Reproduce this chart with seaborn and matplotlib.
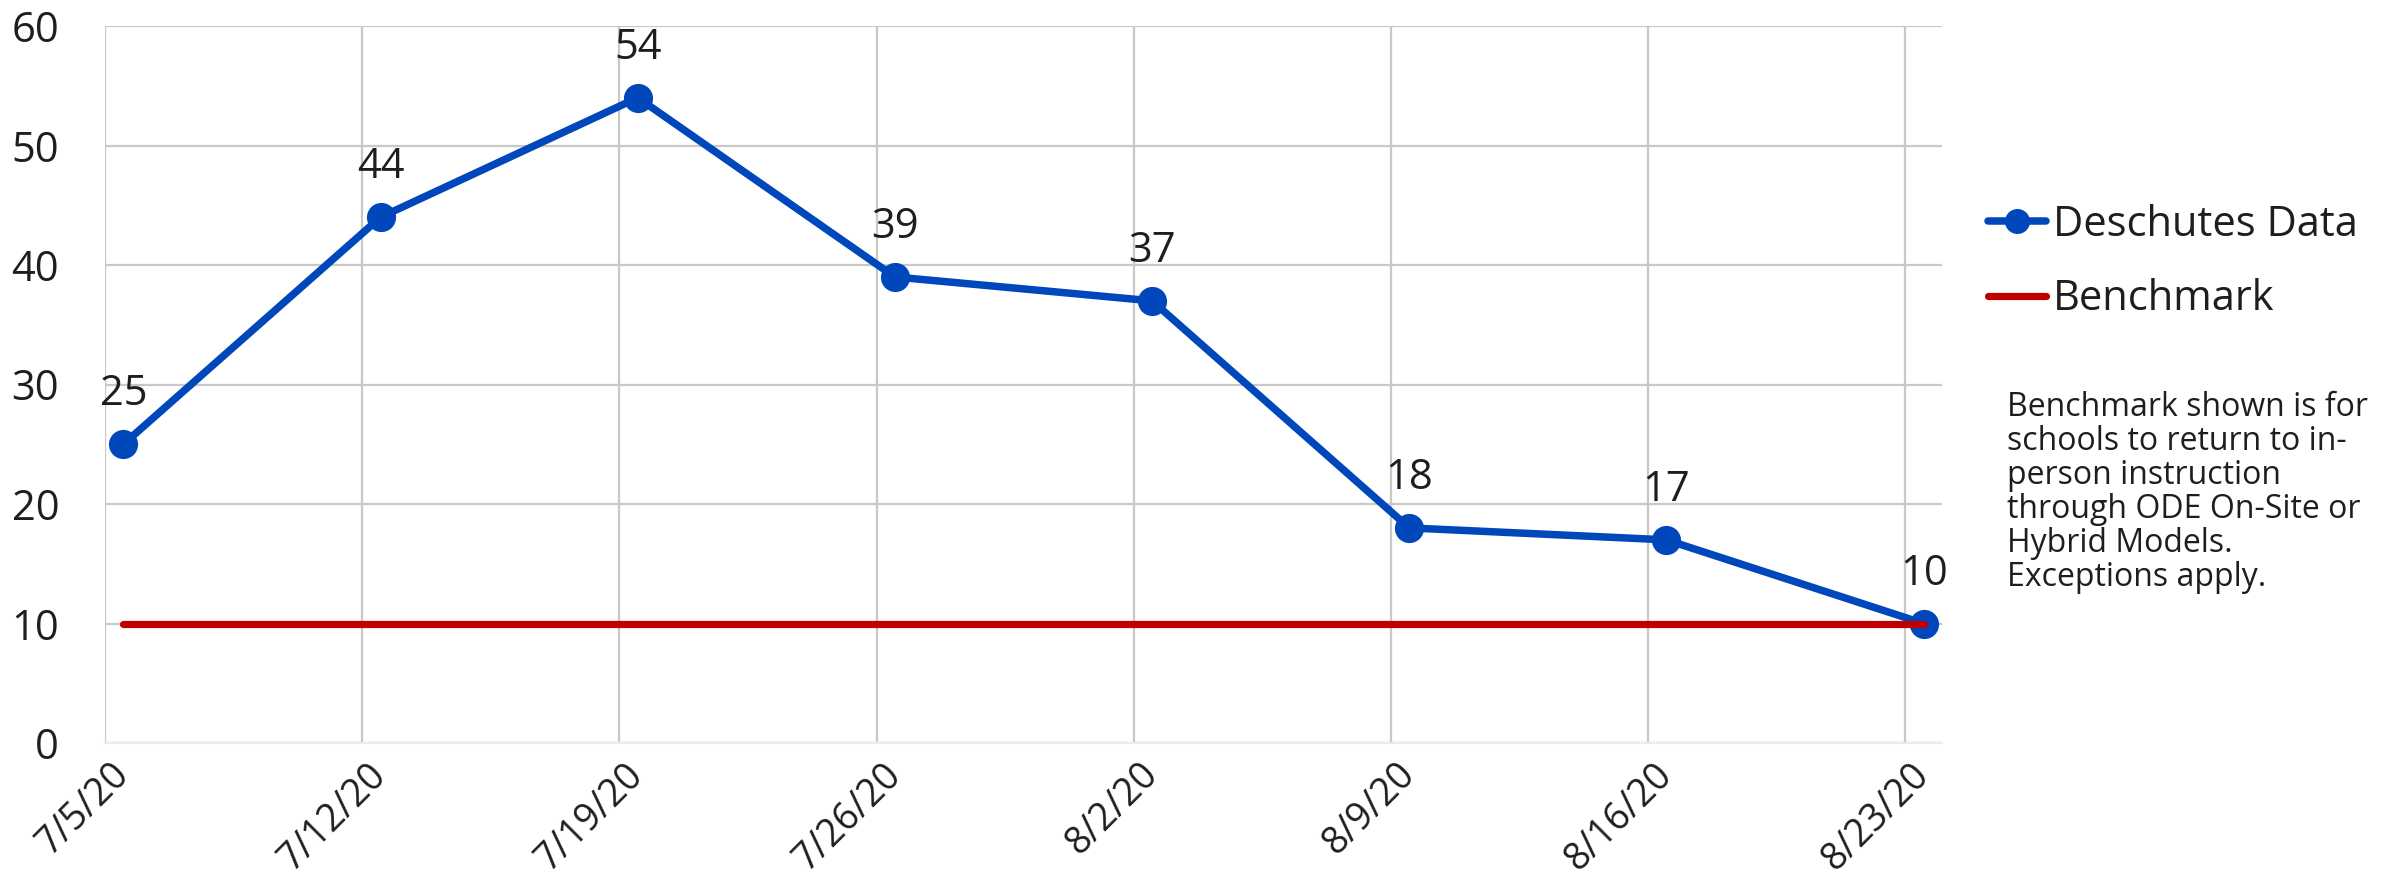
import matplotlib
matplotlib.use("Agg")
import matplotlib.pyplot as plt
import seaborn as sns
import pandas as pd
import numpy as np
from matplotlib.lines import Line2D

# ---- data ----
date_labels = ["7/5/20", "7/12/20", "7/19/20", "7/26/20", "8/2/20", "8/9/20", "8/16/20", "8/23/20"]
deschutes = [25, 44, 54, 39, 37, 18, 17, 10]
benchmark = [10, 10, 10, 10, 10, 10, 10, 10]
series_names = ["Deschutes Data", "Benchmark"]
note = ("Benchmark shown is for\nschools to return to in-\nperson instruction\n"
        "through ODE On-Site or\nHybrid Models.\nExceptions apply.")

BLUE = "#0047BB"
RED = "#C00000"
GRID = "#C8C8C8"
TXT = "#1E1E1E"

sns.set_style("white")
plt.rcParams["font.family"] = ["Open Sans", "DejaVu Sans"]

days = pd.to_datetime(date_labels, format="%m/%d/%y")
pts = days + pd.Timedelta(hours=12)

df = pd.DataFrame({"date": pts, "Deschutes Data": deschutes, "Benchmark": benchmark})

fig = plt.figure(figsize=(23.94, 8.85), dpi=100)
ax = fig.add_axes([105 / 2394, 1 - 743 / 885, (1942 - 105) / 2394, (743 - 26) / 885])

sns.lineplot(data=df, x="date", y="Deschutes Data", ax=ax, color=BLUE, linewidth=5.4,
             marker="o", markersize=21, markeredgewidth=0, zorder=3)
sns.lineplot(data=df, x="date", y="Benchmark", ax=ax, color=RED, linewidth=5.2,
             solid_capstyle="round", zorder=4)

for x, y in zip(df["date"], df["Deschutes Data"]):
    ax.annotate(f"{y}", (x, y), xytext=(0, 28), textcoords="offset points",
                ha="center", va="baseline", fontsize=30, color=TXT)

ax.set_ylim(0, 60)
ax.set_yticks(np.arange(0, 61, 10))
ax.set_xlim(days[0], days[-1] + pd.Timedelta(days=1))
ax.set_xticks(pts)
ax.set_xticklabels(date_labels, rotation=45, ha="right", rotation_mode="anchor", va="center")
ax.set_xticks(days, minor=True)
ax.tick_params(axis="x", which="both", length=0, pad=19, labelsize=27, labelcolor=TXT)
ax.tick_params(axis="y", length=0, pad=33, labelsize=30, labelcolor=TXT)
ax.set_xlabel("")
ax.set_ylabel("")

ax.xaxis.grid(True, which="minor", color=GRID, linewidth=1.6)
ax.xaxis.grid(False, which="major")
ax.yaxis.grid(True, which="major", color=GRID, linewidth=1.6)
ax.set_axisbelow(True)
for s in ["top", "right", "left"]:
    ax.spines[s].set_visible(False)
ax.spines["bottom"].set_color("#E4ECF7")
ax.spines["bottom"].set_linewidth(1.6)

handles = [
    Line2D([0], [0], color=BLUE, linewidth=5.4, marker="o", markersize=18, markeredgewidth=0,
           solid_capstyle="round"),
    Line2D([0], [0], color=RED, linewidth=5.2, solid_capstyle="round"),
]
fig.legend(handles, series_names, loc="upper left", bbox_to_anchor=(1988 / 2394, 1 - 204 / 885),
           frameon=False, fontsize=30, handlelength=1.4, handletextpad=0.15,
           borderpad=0, borderaxespad=0, labelspacing=0.78, labelcolor=TXT)

fig.text(2007 / 2394, 1 - 391 / 885, note, ha="left", va="top", fontsize=23,
         color=TXT, linespacing=1.04)

fig.savefig("out.png", dpi=100)
